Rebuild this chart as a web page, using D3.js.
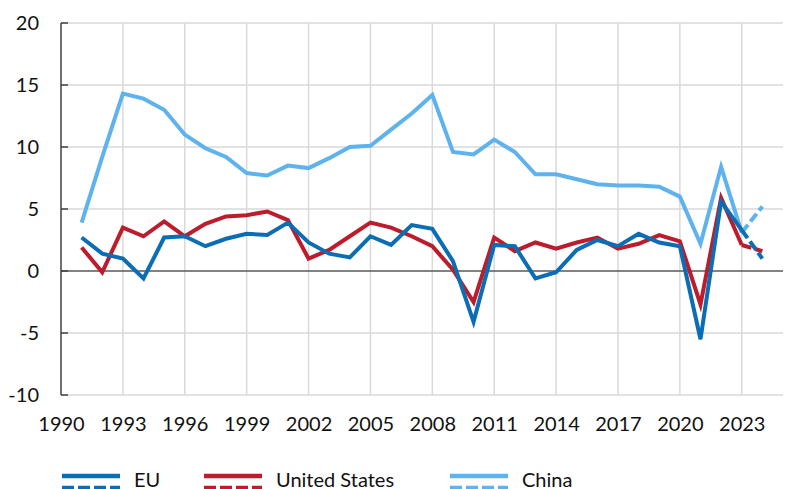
<!DOCTYPE html>
<html>
<head>
<meta charset="utf-8">
<script src="https://cdn.jsdelivr.net/npm/d3@7"></script>
<style>
  body { margin: 0; background: #fff; overflow: hidden; }
  text { font-family: Lato, "Open Sans", sans-serif; fill: #111; }
</style>
</head>
<body>
<div id="svgdiv"></div>
<script>
// chart data
var years = [1991, 1992, 1993, 1994, 1995, 1996, 1997, 1998, 1999, 2000,
             2001, 2002, 2003, 2004, 2005, 2006, 2007, 2008, 2009, 2010,
             2011, 2012, 2013, 2014, 2015, 2016, 2017, 2018, 2019, 2020,
             2021, 2022, 2023];
var eu = [2.7, 1.4, 1.0, -0.6, 2.7, 2.8, 2.0, 2.6, 3.0, 2.9,
          3.9, 2.3, 1.4, 1.1, 2.8, 2.1, 3.7, 3.4, 0.8, -4.1,
          2.1, 2.0, -0.6, -0.1, 1.7, 2.5, 2.0, 3.0, 2.3, 2.0,
          -5.5, 5.6, 3.3];
var us = [1.9, -0.1, 3.5, 2.8, 4.0, 2.8, 3.8, 4.4, 4.5, 4.8,
          4.1, 1.0, 1.7, 2.8, 3.9, 3.5, 2.8, 2.0, 0.1, -2.5,
          2.7, 1.6, 2.3, 1.8, 2.3, 2.7, 1.8, 2.2, 2.9, 2.4,
          -2.7, 5.9, 2.1];
var china = [3.9, 9.2, 14.3, 13.9, 13.0, 11.0, 9.9, 9.2, 7.9, 7.7,
             8.5, 8.3, 9.1, 10.0, 10.1, 11.4, 12.7, 14.2, 9.6, 9.4,
             10.6, 9.6, 7.8, 7.8, 7.4, 7.0, 6.9, 6.9, 6.8, 6.0,
             2.2, 8.4, 3.1];

// forecast part (dashed)
var fcYears = [2023, 2024];
var euFc = [3.3, 1.0];
var usFc = [2.1, 1.6];
var chinaFc = [3.1, 5.2];

var seriesNames = ["EU", "United States", "China"];
var xTicks = [1990, 1993, 1996, 1999, 2002, 2005, 2008, 2011, 2014, 2017, 2020, 2023];
var yTicks = [-10, -5, 0, 5, 10, 15, 20];

var width = 792, height = 489;
var plotLeft = 61, plotRight = 783, plotTop = 23, plotBottom = 395;

var colors = {"EU": "#0b6db3", "United States": "#bc1c2c", "China": "#5eb3ef"};

let svg = d3.select("#svgdiv").append("svg")
    .attr("width", width)
    .attr("height", height);

var x = d3.scaleLinear().domain([1990, 2025]).range([plotLeft, plotRight]);
var y = d3.scaleLinear().domain([-10, 20]).range([plotBottom, plotTop]);

// horizontal gridlines
svg.append("g").selectAll("line")
   .data(yTicks.filter(d => d != 0))
   .join("line")
   .attr("x1", plotLeft).attr("x2", plotRight)
   .attr("y1", d => y(d)).attr("y2", d => y(d))
   .style("stroke", "#d9d9d9")
   .style("stroke-width", 1.5);

// vertical gridlines
svg.append("g").selectAll("line")
   .data(xTicks.filter(d => d != 1990))
   .join("line")
   .attr("x1", d => x(d)).attr("x2", d => x(d))
   .attr("y1", plotTop).attr("y2", plotBottom)
   .style("stroke", "#d9d9d9")
   .style("stroke-width", 1.5);

// zero line
svg.append("line")
   .attr("x1", plotLeft).attr("x2", plotRight)
   .attr("y1", y(0)).attr("y2", y(0))
   .style("stroke", "#595959")
   .style("stroke-width", 1.5);

// y axis
var yAxis = svg.append("g")
   .attr("transform", "translate(" + plotLeft + ",0)")
   .call(d3.axisLeft(y).tickValues(yTicks).tickFormat(d => d).tickSize(0).tickPadding(22));
yAxis.select(".domain").remove();
yAxis.selectAll("text").style("font-size", "20px").style("font-family", "Lato, sans-serif").attr("fill", "#111");

svg.append("line")
   .attr("x1", plotLeft).attr("x2", plotLeft)
   .attr("y1", plotTop).attr("y2", plotBottom)
   .style("stroke", "#404040")
   .style("stroke-width", 1.5);

svg.append("g").selectAll("line")
   .data(yTicks)
   .join("line")
   .attr("x1", plotLeft).attr("x2", plotLeft + 7)
   .attr("y1", d => y(d)).attr("y2", d => y(d))
   .style("stroke", "#404040")
   .style("stroke-width", 1.5);

// x axis labels
var xAxis = svg.append("g")
   .attr("transform", "translate(0," + plotBottom + ")")
   .call(d3.axisBottom(x).tickValues(xTicks).tickFormat(d3.format("d")).tickSize(0).tickPadding(22));
xAxis.select(".domain").remove();
xAxis.selectAll("text").style("font-size", "20px").style("font-family", "Lato, sans-serif").attr("fill", "#111");

var line = d3.line()
    .x(d => x(d[0]))
    .y(d => y(d[1]));

function drawSeries(name, vals, fcVals) {
    svg.append("path")
       .datum(d3.zip(years, vals))
       .attr("d", line)
       .style("fill", "none")
       .style("stroke", colors[name])
       .style("stroke-width", 4)
       .style("stroke-linejoin", "miter");

    svg.append("path")
       .datum(d3.zip(fcYears, fcVals))
       .attr("d", line)
       .style("fill", "none")
       .style("stroke", colors[name])
       .style("stroke-width", 4)
       .style("stroke-dasharray", "10,4");
}

// draw order: China behind, EU on top
drawSeries("China", china, chinaFc);
drawSeries("United States", us, usFc);
drawSeries("EU", eu, euFc);

// legend
var legendX = [62, 204, 450];
seriesNames.forEach(function(name, i) {
    let g = svg.append("g");
    g.append("line")
     .attr("x1", legendX[i]).attr("x2", legendX[i] + 58)
     .attr("y1", 476).attr("y2", 476)
     .style("stroke", colors[name])
     .style("stroke-width", 4.5);
    g.append("line")
     .attr("x1", legendX[i]).attr("x2", legendX[i] + 58)
     .attr("y1", 488).attr("y2", 488)
     .style("stroke", colors[name])
     .style("stroke-width", 4.5)
     .style("stroke-dasharray", "12,4");
    g.append("text")
     .attr("x", legendX[i] + 72)
     .attr("y", 487)
     .style("font-size", "20px")
     .text(name);
});
</script>
</body>
</html>
